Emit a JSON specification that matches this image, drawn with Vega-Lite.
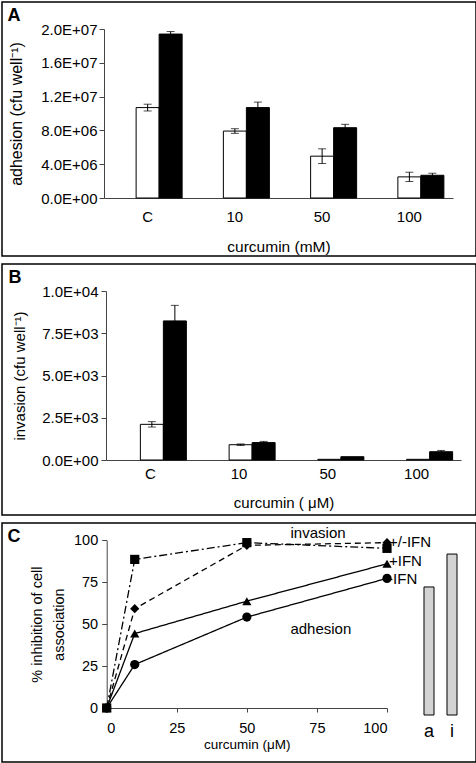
{
  "$schema": "https://vega.github.io/schema/vega-lite/v6.json",
  "padding": {"top": 1, "left": 1, "right": 1, "bottom": 0},
  "spacing": 6,
  "config": {
    "view": {"stroke": "#000", "strokeWidth": 1.5},
    "font": "Liberation Sans",
    "axis": {"grid": false, "labelFont": "Liberation Sans", "titleFont": "Liberation Sans", "labelColor": "#000", "titleColor": "#000", "domainColor": "#444", "tickColor": "#444", "titleFontWeight": "normal", "labelFontSize": 15, "titleFontSize": 15}
  },
  "vconcat": [
    {
      "width": 474, "height": 254,
      "data": {"values": [
        {"dose": "C", "ifn": "white", "v": 10700000, "lo": 10300000, "hi": 11100000},
        {"dose": "C", "ifn": "black", "v": 19400000, "lo": 19100000, "hi": 19700000},
        {"dose": "10", "ifn": "white", "v": 7920000, "lo": 7650000, "hi": 8200000},
        {"dose": "10", "ifn": "black", "v": 10700000, "lo": 10000000, "hi": 11350000},
        {"dose": "50", "ifn": "white", "v": 4950000, "lo": 4080000, "hi": 5820000},
        {"dose": "50", "ifn": "black", "v": 8320000, "lo": 7920000, "hi": 8720000},
        {"dose": "100", "ifn": "white", "v": 2500000, "lo": 1950000, "hi": 3050000},
        {"dose": "100", "ifn": "black", "v": 2690000, "lo": 2450000, "hi": 2930000}
      ]},
      "layer": [
        {
          "mark": {"type": "bar", "stroke": "#000", "strokeWidth": 1},
          "encoding": {
            "x": {"field": "dose", "type": "nominal", "sort": ["C", "10", "50", "100"],
              "scale": {"range": [102, 451], "paddingInner": 0.209, "paddingOuter": 0.1045},
              "axis": {"title": "curcumin (mM)", "orient": "bottom", "offset": -58, "ticks": false, "tickSize": 0, "labelPadding": 11.5, "labelAngle": 0, "labelFontSize": 15, "titlePadding": 15, "titleFontSize": 15.5}},
            "xOffset": {"field": "ifn", "type": "nominal", "sort": ["white", "black"], "scale": {"paddingOuter": 0.5, "paddingInner": 0, "align": 1}},
            "y": {"field": "v", "type": "quantitative",
              "scale": {"domain": [0, 20000000], "range": [196, 27], "nice": false},
              "axis": {"title": "adhesion (cfu well⁻¹)", "offset": -102, "values": [0, 4000000, 8000000, 12000000, 16000000, 20000000], "labelExpr": "replace(upper(format(datum.value,'.1e')),'E+','E+0')", "tickSize": 5, "labelPadding": 2, "titlePadding": 16, "titleFontSize": 16}},
            "fill": {"field": "ifn", "type": "nominal", "scale": {"domain": ["white", "black"], "range": ["#ffffff", "#000000"]}, "legend": null}
          }
        },
        {
          "mark": {"type": "rule", "color": "#000", "strokeWidth": 1},
          "encoding": {
            "x": {"field": "dose", "type": "nominal", "sort": ["C", "10", "50", "100"], "axis": null},
            "xOffset": {"field": "ifn", "type": "nominal", "sort": ["white", "black"]},
            "y": {"field": "lo", "type": "quantitative"},
            "y2": {"field": "hi"}
          }
        },
        {
          "mark": {"type": "tick", "orient": "horizontal", "color": "#000", "size": 8, "thickness": 1},
          "encoding": {
            "x": {"field": "dose", "type": "nominal", "sort": ["C", "10", "50", "100"], "axis": null},
            "xOffset": {"field": "ifn", "type": "nominal", "sort": ["white", "black"]},
            "y": {"field": "lo", "type": "quantitative"}
          }
        },
        {
          "mark": {"type": "tick", "orient": "horizontal", "color": "#000", "size": 8, "thickness": 1},
          "encoding": {
            "x": {"field": "dose", "type": "nominal", "sort": ["C", "10", "50", "100"],
              "axis": {"orient": "top", "title": "A", "labels": false, "ticks": false, "domain": false, "titleX": 5, "titleY": 18, "titleAngle": 0, "titleAlign": "left", "titleBaseline": "alphabetic", "titleFontSize": 18, "titleFontWeight": "bold"}},
            "xOffset": {"field": "ifn", "type": "nominal", "sort": ["white", "black"]},
            "y": {"field": "hi", "type": "quantitative"}
          }
        }
      ],
      "resolve": {"axis": {"x": "independent"}}
    },
    {
      "width": 474, "height": 251,
      "data": {"values": [
        {"dose": "C", "ifn": "white", "v": 2110, "lo": 1950, "hi": 2270},
        {"dose": "C", "ifn": "black", "v": 8230, "lo": 7310, "hi": 9150},
        {"dose": "10", "ifn": "white", "v": 905, "lo": 860, "hi": 950},
        {"dose": "10", "ifn": "black", "v": 1030, "lo": 970, "hi": 1100},
        {"dose": "50", "ifn": "white", "v": 40, "lo": null, "hi": null},
        {"dose": "50", "ifn": "black", "v": 195, "lo": null, "hi": null},
        {"dose": "100", "ifn": "white", "v": 40, "lo": null, "hi": null},
        {"dose": "100", "ifn": "black", "v": 490, "lo": 420, "hi": 565}
      ]},
      "layer": [
        {
          "mark": {"type": "bar", "stroke": "#000", "strokeWidth": 1},
          "encoding": {
            "x": {"field": "dose", "type": "nominal", "sort": ["C", "10", "50", "100"],
              "scale": {"range": [104, 459], "paddingInner": 0.256, "paddingOuter": 0.128},
              "axis": {"title": "curcumin ( μM)", "orient": "bottom", "offset": -55, "ticks": false, "tickSize": 0, "labelPadding": 6, "labelAngle": 0, "labelFontSize": 15, "titlePadding": 14, "titleFontSize": 15}},
            "xOffset": {"field": "ifn", "type": "nominal", "sort": ["white", "black"]},
            "y": {"field": "v", "type": "quantitative",
              "scale": {"domain": [0, 10000], "range": [196, 27], "nice": false},
              "axis": {"title": "invasion (cfu well⁻¹)", "offset": -104, "values": [0, 2500, 5000, 7500, 10000], "labelExpr": "replace(upper(format(datum.value,'.1e')),'E+','E+0')", "tickSize": 5, "labelPadding": 3, "titlePadding": 14, "titleFontSize": 15}},
            "fill": {"field": "ifn", "type": "nominal", "scale": {"domain": ["white", "black"], "range": ["#ffffff", "#000000"]}, "legend": null}
          }
        },
        {
          "mark": {"type": "rule", "color": "#000", "strokeWidth": 1},
          "encoding": {
            "x": {"field": "dose", "type": "nominal", "sort": ["C", "10", "50", "100"], "axis": null},
            "xOffset": {"field": "ifn", "type": "nominal", "sort": ["white", "black"]},
            "y": {"field": "lo", "type": "quantitative"},
            "y2": {"field": "hi"}
          }
        },
        {
          "mark": {"type": "tick", "orient": "horizontal", "color": "#000", "size": 8, "thickness": 1},
          "encoding": {
            "x": {"field": "dose", "type": "nominal", "sort": ["C", "10", "50", "100"], "axis": null},
            "xOffset": {"field": "ifn", "type": "nominal", "sort": ["white", "black"]},
            "y": {"field": "lo", "type": "quantitative"}
          }
        },
        {
          "mark": {"type": "tick", "orient": "horizontal", "color": "#000", "size": 8, "thickness": 1},
          "encoding": {
            "x": {"field": "dose", "type": "nominal", "sort": ["C", "10", "50", "100"],
              "axis": {"orient": "top", "title": "B", "labels": false, "ticks": false, "domain": false, "titleX": 6, "titleY": 18, "titleAngle": 0, "titleAlign": "left", "titleBaseline": "alphabetic", "titleFontSize": 18, "titleFontWeight": "bold"}},
            "xOffset": {"field": "ifn", "type": "nominal", "sort": ["white", "black"]},
            "y": {"field": "hi", "type": "quantitative"}
          }
        }
      ],
      "resolve": {"axis": {"x": "independent"}}
    },
    {
      "width": 474, "height": 239,
      "layer": [
        {
          "layer": [
            {
              "data": {"values": [
                {"series": "sq", "dose": 0, "pct": 0}, {"series": "sq", "dose": 10, "pct": 88.6}, {"series": "sq", "dose": 50, "pct": 98.6}, {"series": "sq", "dose": 100, "pct": 95.2},
                {"series": "di", "dose": 0, "pct": 0}, {"series": "di", "dose": 10, "pct": 59.2}, {"series": "di", "dose": 50, "pct": 97.0}, {"series": "di", "dose": 100, "pct": 98.6},
                {"series": "tr", "dose": 0, "pct": 0}, {"series": "tr", "dose": 10, "pct": 44.4}, {"series": "tr", "dose": 50, "pct": 63.7}, {"series": "tr", "dose": 100, "pct": 86.0},
                {"series": "ci", "dose": 0, "pct": 0}, {"series": "ci", "dose": 10, "pct": 25.9}, {"series": "ci", "dose": 50, "pct": 54.2}, {"series": "ci", "dose": 100, "pct": 77.3}
              ]},
              "layer": [
                {
                  "mark": {"type": "line", "color": "#000", "strokeWidth": 1.3},
                  "encoding": {
                    "x": {"field": "dose", "type": "quantitative",
                      "scale": {"domain": [0, 100], "range": [104.7, 385], "nice": false},
                      "axis": {"title": "curcumin (μM)", "orient": "bottom", "offset": -54, "values": [0, 25, 50, 75, 100], "tickSize": 4, "labelPadding": 9, "labelAngle": 0, "titlePadding": 3, "titleFontSize": 13.5, "labelFontSize": 14.5}},
                    "y": {"field": "pct", "type": "quantitative",
                      "scale": {"domain": [0, 100], "range": [185, 17.3], "nice": false},
                      "axis": {"title": ["% inhibition of cell", "association"], "offset": -104.7, "values": [0, 25, 50, 75, 100], "tickSize": 5, "labelPadding": 4, "titlePadding": 7, "titleFontSize": 14.5, "titleLineHeight": 22, "labelFontSize": 14.5}},
                    "strokeDash": {"field": "series", "type": "nominal", "scale": {"domain": ["sq", "di", "tr", "ci"], "range": [[8, 3, 2, 3], [6, 4], [1, 0], [1, 0]]}, "legend": null}
                  }
                },
                {
                  "mark": {"type": "point", "filled": true, "color": "#000", "opacity": 1, "size": 85},
                  "encoding": {
                    "x": {"field": "dose", "type": "quantitative"},
                    "y": {"field": "pct", "type": "quantitative"},
                    "shape": {"field": "series", "type": "nominal", "scale": {"domain": ["sq", "di", "tr", "ci"], "range": ["square", "diamond", "triangle-up", "circle"]}, "legend": null}
                  }
                }
              ]
            },
            {
              "data": {"values": [
                {"label": "invasion", "dose": 75.4, "pct": 104.4},
                {"label": "adhesion", "dose": 76.4, "pct": 47.1}
              ]},
              "mark": {"type": "text", "align": "center", "baseline": "middle", "fontSize": 15, "color": "#000"},
              "encoding": {
                "x": {"field": "dose", "type": "quantitative"},
                "y": {"field": "pct", "type": "quantitative"},
                "text": {"field": "label"}
              }
            },
            {
              "data": {"values": [
                {"label": "+/-IFN", "dose": 100.7, "pct": 99.0},
                {"label": "+IFN", "dose": 100.7, "pct": 87.7},
                {"label": "-IFN", "dose": 100.4, "pct": 76.9}
              ]},
              "mark": {"type": "text", "align": "left", "baseline": "middle", "fontSize": 15, "color": "#000"},
              "encoding": {
                "x": {"field": "dose", "type": "quantitative"},
                "y": {"field": "pct", "type": "quantitative"},
                "text": {"field": "label"}
              }
            }
          ]
        },
        {
          "data": {"values": [
            {"cond": "a", "v": 76.2},
            {"cond": "i", "v": 95.8}
          ]},
          "mark": {"type": "bar", "fill": "#d3d3d3", "stroke": "#000", "strokeWidth": 1},
          "encoding": {
            "x": {"field": "cond", "type": "nominal",
              "scale": {"range": [415.5, 461.5], "paddingInner": 0.565, "paddingOuter": 0.2825},
              "axis": {"title": "C", "orient": "bottom", "offset": -47, "domain": false, "ticks": false, "tickSize": 0, "labelAngle": 0, "labelFontSize": 18, "labelPadding": 7, "titleX": 5, "titleY": -174, "titleAngle": 0, "titleAlign": "left", "titleBaseline": "alphabetic", "titleFontSize": 18, "titleFontWeight": "bold"}},
            "y": {"field": "v", "type": "quantitative",
              "scale": {"domain": [0, 100], "range": [192, 24], "nice": false},
              "axis": null}
          }
        }
      ],
      "resolve": {"scale": {"x": "independent", "y": "independent"}, "axis": {"x": "independent", "y": "independent"}}
    }
  ]
}
